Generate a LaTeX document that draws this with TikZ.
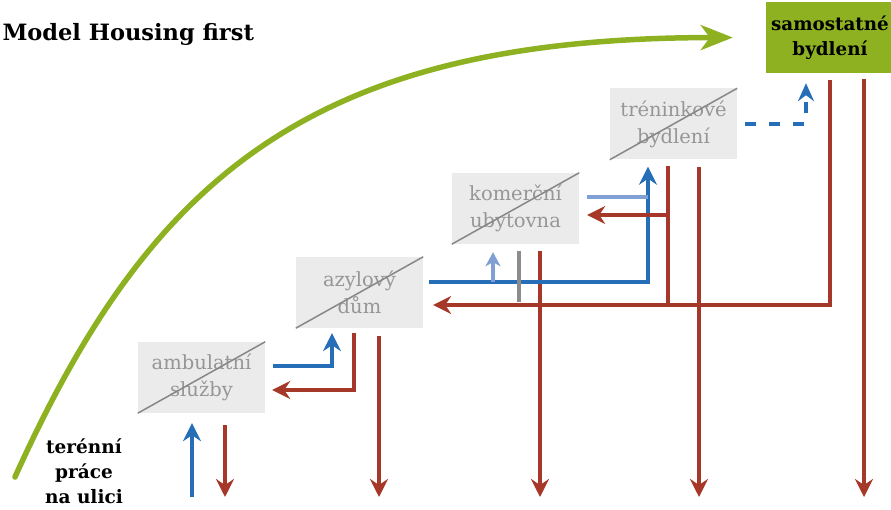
\documentclass[tikz,border=0pt]{standalone}
\usepackage{fontspec}
\setmainfont{DejaVu Serif}
\usetikzlibrary{arrows.meta}

\definecolor{hfgreen}{RGB}{142,177,33}
\definecolor{stagegray}{RGB}{235,235,235}
\definecolor{stagetext}{RGB}{150,150,150}
\definecolor{slashgray}{RGB}{135,135,135}
\definecolor{fwdblue}{RGB}{38,110,183}
\definecolor{sideblue}{RGB}{128,160,212}
\definecolor{backred}{RGB}{165,56,40}
\definecolor{stubgray}{RGB}{140,140,140}

\tikzset{
  stage/.style={fill=stagegray, text=stagetext, minimum width=127pt, minimum height=71pt,
    inner sep=0pt, align=center, font=\fontsize{19.5}{27}\selectfont},
  goal/.style={fill=hfgreen, minimum width=128pt, minimum height=71pt, inner sep=0pt,
    align=center, font=\bfseries\fontsize{18.3}{25}\selectfont},
  slash/.style={draw=slashgray, line width=1.5pt},
  fwd/.style={draw=fwdblue, line width=3.2pt, -{Stealth[length=18pt,width=18pt,inset=6pt]}},
  back/.style={draw=backred, line width=3.2pt, -{Stealth[length=18pt,width=18pt,inset=6pt]}},
  backline/.style={draw=backred, line width=3.2pt},
  side/.style={draw=sideblue, line width=3.2pt, -{Stealth[length=14pt,width=15pt,inset=4pt]}},
  sideline/.style={draw=sideblue, line width=3.2pt},
  stub/.style={draw=stubgray, line width=3.2pt},
  trial/.style={draw=fwdblue, line width=3.6pt, dash pattern=on 11pt off 13pt,
    -{Stealth[length=18pt,width=16pt,inset=6pt]}},
  goalarc/.style={draw=hfgreen, line width=5.5pt, line cap=round,
    -{Stealth[length=32pt,width=25pt,inset=9pt]}}
}

\begin{document}
\begin{tikzpicture}[x=1pt, y=-1pt]
    \useasboundingbox (0,0) rectangle (891,510);

    % Title and start
    \node[anchor=base west, font=\bfseries\fontsize{22.5}{28}\selectfont] (title) at (-1,41) {Model Housing first};
    \node[align=center, font=\bfseries\fontsize{18.5}{25}\selectfont] (street) at (84,471) {terénní\\práce\\na ulici};

    % Stages
    \node[stage] (amb) at (201.5,377.5) {ambulatní\\služby};
    \node[stage] (azyl) at (359.5,292.5) {azylový\\dům};
    \node[stage] (kom) at (515.5,208.5) {komerční\\ubytovna};
    \node[stage] (tren) at (673.5,124) {tréninkové\\bydlení};
    \node[goal] (samo) at (830,37.5) {samostatné\\bydlení};

    % Crossed-out stages
    \foreach \n in {amb,azyl,kom,tren}
        \draw[slash] (\n.south west) -- (\n.north east);

    % Anchor points
    \coordinate (floor) at (0,497);
    \coordinate (arcstart) at (15,477);
    \coordinate (streetin) at (192,497);
    \coordinate (ambin) at ([xshift=-9.5pt]amb.south);
    \coordinate (ambout) at ([xshift=23.5pt]amb.south);
    \coordinate (azylout) at ([xshift=19.5pt]azyl.south);
    \coordinate (komout) at ([xshift=24.5pt]kom.south);
    \coordinate (trenout) at ([xshift=25.5pt]tren.south);
    \coordinate (samoout) at ([xshift=34pt]samo.south);
    \coordinate (ambright) at ([yshift=11.5pt]amb.east);
    \coordinate (ambback) at ([yshift=-12.5pt]amb.east);
    \coordinate (azylin) at ([xshift=-27.5pt]azyl.south);
    \coordinate (azylleft) at ([xshift=-5.5pt]azyl.south);
    \coordinate (azylright) at ([yshift=10.5pt]azyl.east);
    \coordinate (azylback) at ([yshift=-12.5pt]azyl.east);
    \coordinate (komin) at ([xshift=-22.5pt]kom.south);
    \coordinate (komstub) at ([xshift=3.5pt]kom.south);
    \coordinate (komright) at ([yshift=11.5pt]kom.east);
    \coordinate (komback) at ([yshift=-6.5pt]kom.east);
    \coordinate (trenin) at ([xshift=-25.5pt]tren.south);
    \coordinate (trenleft) at ([xshift=-5.5pt]tren.south);
    \coordinate (samoleft) at (samo.south);
    \coordinate (samoin) at ([xshift=-24pt]samo.south);

    % Housing first arc
    \draw[goalarc, shorten >=33pt] (arcstart) .. controls (150,178) and (310,38) .. (samo.west);

    % Drop-outs to the street
    \foreach \c/\g in {ambout/12pt, azylout/8pt, komout/7pt, trenout/7pt, samoout/6pt}
        \draw[back, shorten <=\g] (\c) -- (\c |- floor);

    % Steps up
    \draw[fwd, shorten >=10pt] (streetin) -- (ambin);
    \draw[fwd, shorten <=8pt, shorten >=5pt] (ambright) -| (azylin);
    \draw[fwd, shorten <=6pt, shorten >=7pt] (azylright) -| (trenin);
    \draw[side, shorten >=8pt] (komin |- azylright) -- (komin);
    \draw[sideline, shorten <=8pt] (komright) -- (trenin |- komright);
    \draw[stub, shorten <=7pt, shorten >=3pt] (komstub) -- (komstub |- azylback);
    \draw[trial, shorten <=8pt, shorten >=10pt] (tren.east) -| (samoin);

    % Steps down
    \draw[back, shorten <=5pt, shorten >=7pt] (azylleft) |- (ambback);
    \draw[backline, shorten <=6pt] (trenleft) -- (trenleft |- azylback);
    \draw[back, shorten >=8pt] (trenleft |- komback) -- (komback);
    \draw[back, shorten <=7pt, shorten >=10pt] (samoleft) |- (azylback);
\end{tikzpicture}
\end{document}
